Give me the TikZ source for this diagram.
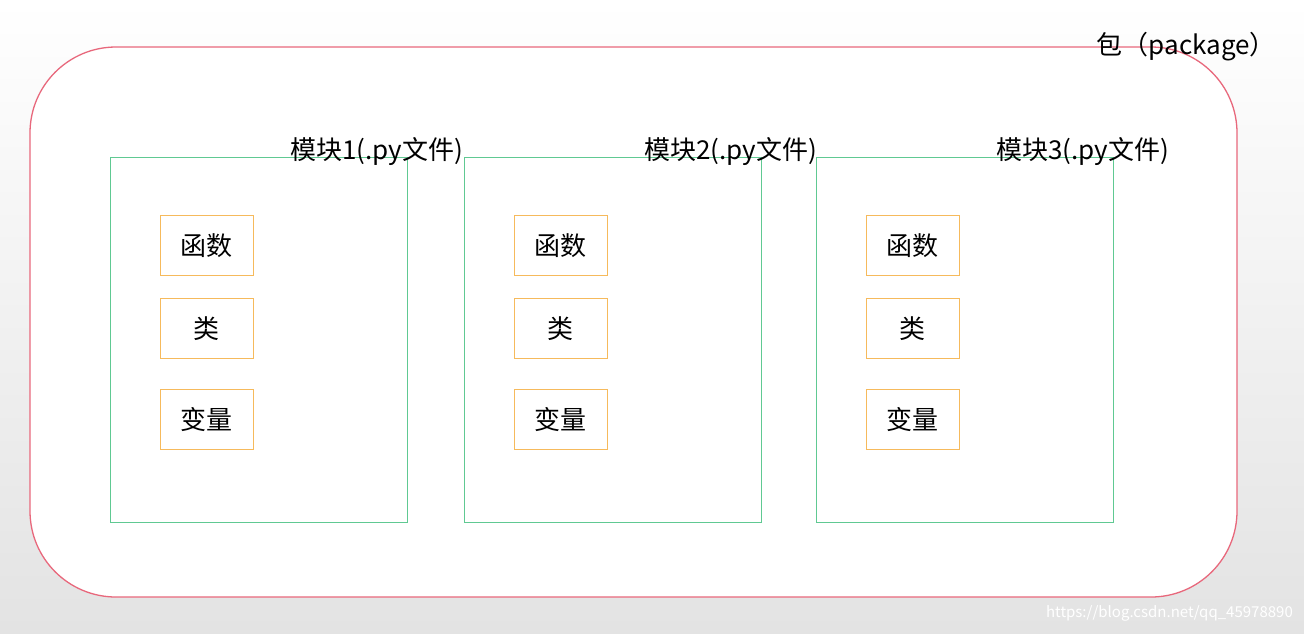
\documentclass[tikz,border=0pt]{standalone}
\usepackage{fontspec}
\setmainfont{Noto Sans CJK SC}
\definecolor{pkgred}{RGB}{232,104,124}
\definecolor{modgreen}{RGB}{96,201,146}
\definecolor{itemorange}{RGB}{246,186,92}

\begin{document}
\begin{tikzpicture}[x=1pt,y=-1pt]
                \tikzstyle{package}=[draw=pkgred,line width=1.3pt,fill=white,rounded corners=86pt]
                \tikzstyle{module}=[draw=modgreen,line width=0.8pt,minimum width=297pt,minimum height=365pt,inner sep=0pt]
                \tikzstyle{item}=[draw=itemorange,line width=0.8pt,minimum width=93pt,minimum height=60pt,inner sep=0pt,font=\fontsize{26}{30}\selectfont]
                \tikzstyle{title}=[anchor=east,inner sep=0pt,font=\fontsize{26}{30}\selectfont]

                \shade[top color=white,bottom color=black!11] (0,0) rectangle (1304,633);
                \useasboundingbox (0,0) rectangle (1304,633);

                \draw[package] (30,47) rectangle (1237,597);
                \node[title] (pkg) at (1276,47) {包（package）};

                \foreach \num/\x in {1/110, 2/464, 3/816} {
                        \node[module] (M-\num) at (\x+148.5,339.5) {};
                        \node[title] (T-\num) at (\x+353,152) {模块\num(.py文件)};
                        \node[item] (F-\num) at (\x+96.5,245.5) {函数};
                        \node[item] (C-\num) at (\x+96.5,328.5) {类};
                        \node[item] (V-\num) at (\x+96.5,419.5) {变量};
                }

                \node[anchor=east,inner sep=0pt,text=white,font=\fontsize{15}{18}\selectfont] (mark) at (1293,613) {https://blog.csdn.net/qq\_45978890};
\end{tikzpicture}
\end{document}
